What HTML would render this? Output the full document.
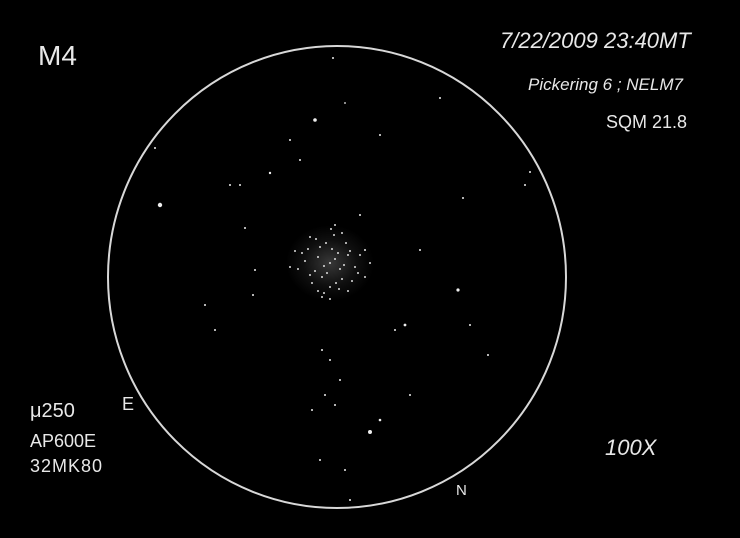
<!DOCTYPE html>
<html><head><meta charset="utf-8">
<style>
html,body{margin:0;padding:0;background:#000;}
svg{display:block;}
text{fill:#e8e8e8;font-family:"Liberation Sans",sans-serif;}
</style></head>
<body>
<svg width="740" height="538" viewBox="0 0 740 538">
<defs>
<radialGradient id="glow" cx="50%" cy="50%" r="50%">
<stop offset="0%" stop-color="#fff" stop-opacity="0.22"/>
<stop offset="60%" stop-color="#fff" stop-opacity="0.06"/>
<stop offset="100%" stop-color="#fff" stop-opacity="0"/>
</radialGradient>
</defs>
<rect width="740" height="538" fill="#000"/>
<ellipse cx="337" cy="277" rx="229" ry="231" fill="none" stroke="#d8d8d8" stroke-width="2"/>
<ellipse cx="330" cy="263" rx="44" ry="38" fill="url(#glow)"/>
<g id="stars"></g>
<g id="cluster"></g>
<text x="38" y="65" font-size="28">M4</text>
<text x="500" y="48" font-size="22" font-style="italic">7/22/2009  23:40MT</text>
<text x="528" y="90" font-size="17" font-style="italic">Pickering 6 ; NELM7</text>
<text x="606" y="128" font-size="18">SQM 21.8</text>
<text x="30" y="417" font-size="20">μ250</text>
<text x="122" y="410" font-size="18">E</text>
<text x="30" y="447" font-size="18">AP600E</text>
<text x="30" y="472" font-size="18" letter-spacing="1">32MK80</text>
<text x="605" y="455" font-size="22" font-style="italic">100X</text>
<text x="456" y="495" font-size="15">N</text>
</svg>
<script>
const starX=[160,333,315,440,380,290,270,155,230,240,463,530,525,245,205,345,300,360,420,458,470,255,215,405,395,410,488,322,330,340,312,325,335,380,370,320,345,350,365,253];
const starY=[205,58,120,98,135,140,173,148,185,185,198,172,185,228,305,103,160,215,250,290,325,270,330,325,330,395,355,350,360,380,410,395,405,420,432,460,470,500,250,295];
const starR=[2.2,1,1.8,1,1,1,1.2,1,1,1,1,1,1,1,1,0.9,1,1,1,1.6,1,1,1,1.4,1,1,1,1,1,1,1,1,1,1.3,2,1,1,1,1,1];
const cDX=[0,5,-6,10,-12,14,-3,8,-15,18,2,-8,20,-20,12,-10,25,-25,6,-4,16,-18,28,-28,0,9,-14,22,-22,4,-6,30,-32,12,-12,35,-35,18,-20,1,40,-40,0,5,-8];
const cDY=[0,-4,3,6,-6,2,10,-10,8,-8,-14,14,-12,12,16,-16,4,-2,20,-20,-20,20,10,-10,24,26,-24,18,-14,-28,30,-8,6,-30,28,14,-12,28,-26,-34,0,4,36,-38,34];
const sv="http://www.w3.org/2000/svg";
const g=document.getElementById('stars');
for(let i=0;i<starX.length;i++){const c=document.createElementNS(sv,'circle');
c.setAttribute('cx',starX[i]);c.setAttribute('cy',starY[i]);c.setAttribute('r',starR[i]);c.setAttribute('fill','#eee');


g.appendChild(c);}
const k=document.getElementById('cluster');
for(let i=0;i<cDX.length;i++){const c=document.createElementNS(sv,'circle');
c.setAttribute('cx',330+cDX[i]);c.setAttribute('cy',263+cDY[i]);c.setAttribute('r',1);c.setAttribute('fill','#ddd');


k.appendChild(c);}
</script>
</body></html>
